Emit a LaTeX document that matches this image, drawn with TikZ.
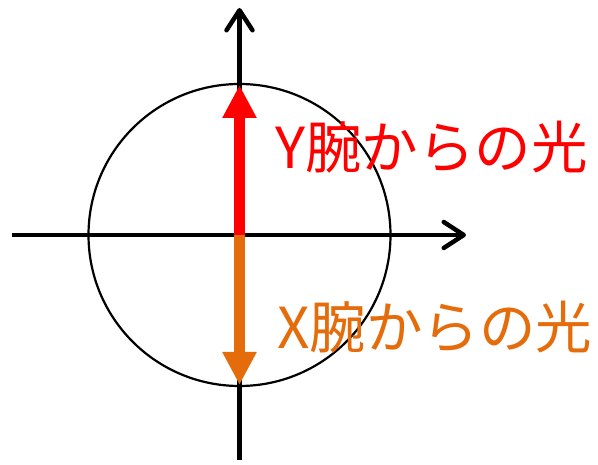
\documentclass[tikz,border=0pt]{standalone}
\usepackage{fontspec}
\newfontfamily\jpfont{Noto Sans CJK JP}
\usetikzlibrary{arrows.meta}
\definecolor{pporange}{RGB}{228,108,10}
\tikzset{
  axis/.style={line width=4.5pt, -{Straight Barb[length=20pt,width=26pt,line cap=round,line join=round]}, line cap=butt},
  beam/.style={line width=11pt, line cap=butt, -{Triangle[length=33pt,width=32pt]}},
  lbl/.style={anchor=base west, inner sep=0pt, font=\jpfont\fontsize{56.5}{60}\selectfont}
}
\begin{document}
\begin{tikzpicture}[x=1pt,y=1pt]
\useasboundingbox (0,0) rectangle (598,464);
\coordinate (O) at (239.5,229);
\coordinate (L) at (12,229);
\coordinate (R) at (466,229);
\coordinate (B) at (239.5,4);
\coordinate (T) at (239.5,456);
\coordinate (top) at (239.5,379);
\coordinate (bot) at (239.5,79);
\node[draw, circle, line width=2.2pt, minimum size=302pt, inner sep=0pt] (c) at (O) {};
\draw[axis] (L) -- (R);
\draw[axis] (B) -- (T);
\draw[beam, red] (O) -- (top);
\draw[beam, pporange] (O) -- (bot);
\node[lbl, text=red] (ylab) at (275,295) {Y腕からの光};
\node[lbl, text=pporange] (xlab) at (277,115) {X腕からの光};
\end{tikzpicture}
\end{document}
